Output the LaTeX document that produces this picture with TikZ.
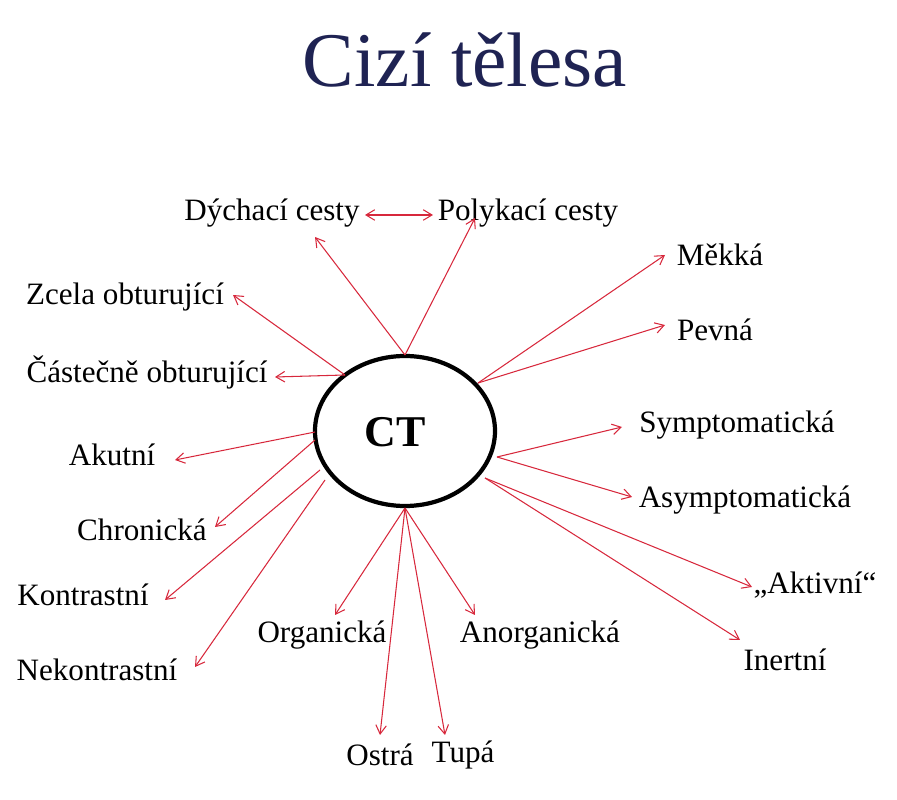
\documentclass[tikz,border=0pt]{standalone}
\usepackage{fontspec}
\setmainfont{Liberation Serif}
\usetikzlibrary{arrows.meta}
\definecolor{navy}{RGB}{31,35,83}
\definecolor{arr}{RGB}{215,40,60}
\begin{document}
\begin{tikzpicture}[x=0.02cm,y=-0.02cm,
  lab/.style={font=\fontsize{17.7}{20}\selectfont},
  con/.style={draw=arr,line width=0.6pt,-{Straight Barb[length=5pt,width=6pt]}}]
\useasboundingbox (0,0) rectangle (897,800);
\node[font=\fontsize{44}{52}\selectfont,text=navy] (title) at (465,60) {Cizí tělesa};
\draw[line width=2.4pt] (405,431) ellipse (90 and 75);
\node[font=\fontsize{25}{30}\selectfont\bfseries] (ctl) at (395,432) {CT};
% labels
\node[lab] (dych) at (272,213) {Dýchací cesty};
\node[lab] (poly) at (528,213) {Polykací cesty};
\node[lab] (mek) at (720,255) {Měkká};
\node[lab] (pev) at (715,330) {Pevná};
\node[lab] (zce) at (125,297) {Zcela obturující};
\node[lab] (cas) at (147,372) {Částečně obturující};
\node[lab] (aku) at (112,455) {Akutní};
\node[lab] (chr) at (142,530) {Chronická};
\node[lab] (kon) at (83,595) {Kontrastní};
\node[lab] (nek) at (97,670) {Nekontrastní};
\node[lab] (org) at (322,635) {Organická};
\node[lab] (ano) at (540,635) {Anorganická};
\node[lab] (sym) at (737,425) {Symptomatická};
\node[lab] (asy) at (745,500) {Asymptomatická};
\node[lab] (akt) at (815,585) {„Aktivní“};
\node[lab] (ine) at (785,660) {Inertní};
\node[lab] (ost) at (380,755) {Ostrá};
\node[lab] (tup) at (463,755) {Tupá};
% start coordinates
\coordinate (top) at (405,355);
\coordinate (tr) at (478,383);
\coordinate (tl) at (345,375);
\coordinate (r1) at (497,457);
\coordinate (r2) at (485,478);
\coordinate (l1) at (315,432);
\coordinate (l2) at (315,440);
\coordinate (l3) at (320,470);
\coordinate (l4) at (325,480);
\coordinate (bot) at (405,508);
% end coordinates
\coordinate (e1) at (315,237); \coordinate (e2) at (475,218);
\coordinate (d1) at (365,215); \coordinate (d2) at (433,215);
\coordinate (e3) at (665,255); \coordinate (e4) at (665,325);
\coordinate (e5) at (233,295); \coordinate (e6) at (275,377);
\coordinate (e7) at (622,427); \coordinate (e8) at (632,497);
\coordinate (e9) at (752,587); \coordinate (e10) at (740,640);
\coordinate (e11) at (175,460); \coordinate (e12) at (215,527);
\coordinate (e13) at (165,600); \coordinate (e14) at (195,667);
\coordinate (e15) at (335,615); \coordinate (e16) at (475,615);
\coordinate (e17) at (380,735); \coordinate (e18) at (445,735);
\draw[con] (top) -- (e1); \draw[con] (top) -- (e2);
\draw[con,{Straight Barb[length=5pt,width=6pt]}-{Straight Barb[length=5pt,width=6pt]}] (d1) -- (d2);
\draw[con] (tr) -- (e3); \draw[con] (tr) -- (e4);
\draw[con] (tl) -- (e5); \draw[con] (tl) -- (e6);
\draw[con] (r1) -- (e7); \draw[con] (r1) -- (e8);
\draw[con] (r2) -- (e9); \draw[con] (r2) -- (e10);
\draw[con] (l1) -- (e11); \draw[con] (l2) -- (e12);
\draw[con] (l3) -- (e13); \draw[con] (l4) -- (e14);
\draw[con] (bot) -- (e15); \draw[con] (bot) -- (e16);
\draw[con] (bot) -- (e17); \draw[con] (bot) -- (e18);
\end{tikzpicture}
\end{document}
